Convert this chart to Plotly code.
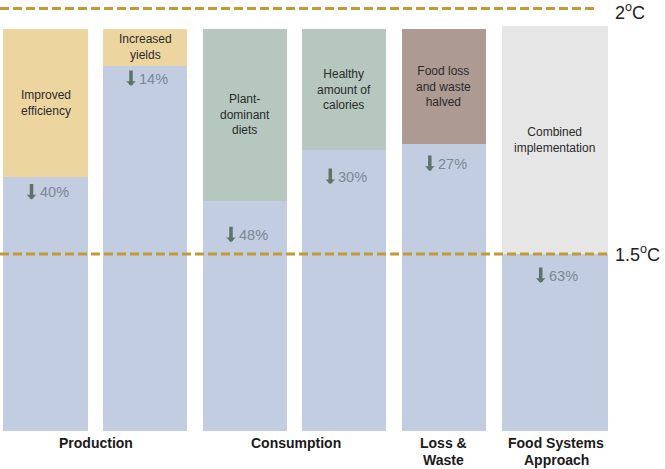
import plotly.graph_objects as go

# --- data (bar height = 100 units) ---
measures = ["Improved<br>efficiency", "Increased<br>yields", "Plant-<br>dominant<br>diets",
            "Healthy<br>amount of<br>calories", "Food loss<br>and waste<br>halved",
            "Combined<br>implementation"]
reductions = [40, 14, 48, 30, 27, 63]
remaining = [63.0, 90.7, 57.1, 69.8, 71.3, 44.0]
totals = [100.0, 100.0, 100.0, 100.0, 100.0, 100.7]
groups = ["Production", "Consumption", "Loss &<br>Waste", "Food Systems<br>Approach"]
limit_2c = 105.0
limit_15c = 44.0

# --- layout constants (pixel-like x positions) ---
bar_x = [45.5, 145.0, 245.0, 344.3, 443.8, 554.7]
bar_w = [84.5, 84.5, 84.5, 84.0, 84.5, 106.0]
group_x = [95.5, 295.5, 443.0, 556.0]
pct_drop = [15, 13, 34, 27, 20, 22]  # label offset below blue top, px
top_colors = ["#EDD5A0", "#EDD5A0", "#B5C7BF", "#B5C7BF", "#AD9A93", "#E6E6E6"]
blue = "#C2CDE2"
gold = "#C29A36"
FONT = "Liberation Sans, Arial, sans-serif"

fig = go.Figure()

fig.add_trace(go.Bar(
    x=bar_x, y=remaining, width=bar_w,
    marker=dict(color=blue, line=dict(width=0)),
    hoverinfo="skip", showlegend=False
))
fig.add_trace(go.Bar(
    x=bar_x, y=[t - r for t, r in zip(totals, remaining)], base=remaining, width=bar_w,
    marker=dict(color=top_colors, line=dict(width=0)),
    hoverinfo="skip", showlegend=False
))

# temperature threshold lines
fig.add_shape(type="line", xref="x", yref="y", x0=0, x1=598, y0=limit_2c, y1=limit_2c,
              line=dict(color=gold, width=3, dash="9px,4px"), layer="above")
fig.add_shape(type="line", xref="x", yref="y", x0=0, x1=607, y0=limit_15c, y1=limit_15c,
              line=dict(color=gold, width=3, dash="9px,4px"), layer="above")
fig.add_annotation(x=613, y=limit_2c, text="2<sup>o</sup>C", showarrow=False,
                   xanchor="left", yanchor="middle", yshift=-3,
                   font=dict(family=FONT, size=18, color="#222222"))
fig.add_annotation(x=613, y=limit_15c, text="1.5<sup>o</sup>C", showarrow=False,
                   xanchor="left", yanchor="middle",
                   font=dict(family=FONT, size=18, color="#222222"))

for i in range(len(bar_x)):
    # measure label in the upper segment
    fig.add_annotation(x=bar_x[i], y=(totals[i] + remaining[i]) / 2, text=measures[i],
                       showarrow=False, xanchor="center", yanchor="middle",
                       font=dict(family=FONT, size=12, color="#2b2b2b"))
    # reduction label + down arrow
    fig.add_annotation(x=bar_x[i], y=remaining[i], text=f"{reductions[i]}%",
                       showarrow=False, xanchor="left", yanchor="middle",
                       xshift=-8, yshift=-pct_drop[i],
                       font=dict(family=FONT, size=14.5, color="#7B8894"))
    fig.add_annotation(x=bar_x[i], y=remaining[i], text="", showarrow=True,
                       ax=0, ay=-17, xshift=-14, yshift=-pct_drop[i] - 7,
                       arrowhead=1, arrowsize=0.45, arrowwidth=3.5, arrowcolor="#5E7468",
                       standoff=0)

# group labels under the bars, one annotation per line
for gx, g in zip(group_x, groups):
    for k, line in enumerate(g.split("<br>")):
        fig.add_annotation(x=gx, y=0, text=f"<b>{line}</b>", showarrow=False,
                           xanchor="center", yanchor="middle", yshift=-12 - 17 * k,
                           font=dict(family=FONT, size=14, color="#1a1a1a"))

fig.update_layout(
    width=665, height=469,
    margin=dict(l=0, r=0, t=0, b=0),
    plot_bgcolor="white", paper_bgcolor="white",
    barmode="overlay", bargap=0,
    showlegend=False
)
fig.update_xaxes(range=[0, 665], visible=False, fixedrange=True)
fig.update_yaxes(range=[-9.44, 107.1], visible=False, fixedrange=True)

# page body has a default 8px margin; drop it so the chart fills the window
fig.write_html("out.html", config={"displayModeBar": False},
               post_script="document.body.style.margin='0';")
